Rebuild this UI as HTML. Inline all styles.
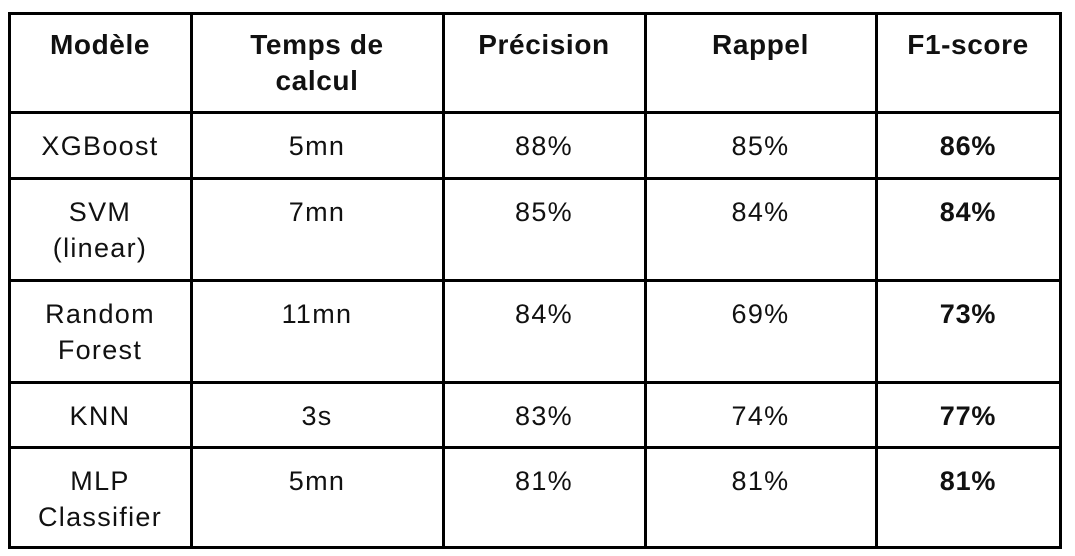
<!DOCTYPE html>
<html><head><meta charset="utf-8"><style>
html,body{margin:0;padding:0;background:#fff;width:1075px;height:556px;overflow:hidden}
#t{position:absolute;left:0;top:0;width:1075px;height:556px;font-family:"Liberation Sans",sans-serif;color:#111}
.h,.v{position:absolute;background:#000}
.h{height:2.5px}
.v{width:2.5px}
.c{position:absolute;text-align:center;font-size:27px;line-height:36px;letter-spacing:1.3px}
.b{font-weight:bold;letter-spacing:0.8px}
.hd{font-size:28px;letter-spacing:0.6px}
</style></head><body>
<div id="t"></div>
<script>
const headers=["Modèle","Temps de<br>calcul","Précision","Rappel","F1-score"];
const models=["XGBoost","SVM<br>(linear)","Random<br>Forest","KNN","MLP<br>Classifier"];
const times=["5mn","7mn","11mn","3s","5mn"];
const precision=["88%","85%","84%","83%","81%"];
const recall=["85%","84%","69%","74%","81%"];
const f1=["86%","84%","73%","77%","81%"];
const colX=[9,191,443,645,876,1060];
const rowY=[13,112,178,280,382,447,547];
const t=document.getElementById('t');
colX.forEach((x,i)=>{const d=document.createElement('div');d.className='v';


d.style.left=(x-1)+'px';d.style.top=(rowY[0]-1)+'px';d.style.height=(rowY[rowY.length-1]-rowY[0]+2.5)+'px';t.appendChild(d);});
rowY.forEach((y,i)=>{const d=document.createElement('div');d.className='h';


d.style.top=(y-1)+'px';d.style.left=(colX[0]-1)+'px';d.style.width=(colX[colX.length-1]-colX[0]+2.5)+'px';t.appendChild(d);});
function cell(r,c,html,cls,name){const d=document.createElement('div');d.className='c'+cls;


d.style.left=colX[c]+'px';d.style.width=(colX[c+1]-colX[c])+'px';d.style.top=(rowY[r]+(r===0?14:16))+'px';d.innerHTML=html;t.appendChild(d);}
headers.forEach((h,c)=>cell(0,c,h,' b hd','header-cell'));
const cols=[models,times,precision,recall,f1];
models.forEach((m,r)=>{cols.forEach((arr,c)=>cell(r+1,c,arr[r],c===4?' b':'',['model-name','compute-time','precision-value','recall-value','f1-value'][c]));});
</script>
</body></html>
